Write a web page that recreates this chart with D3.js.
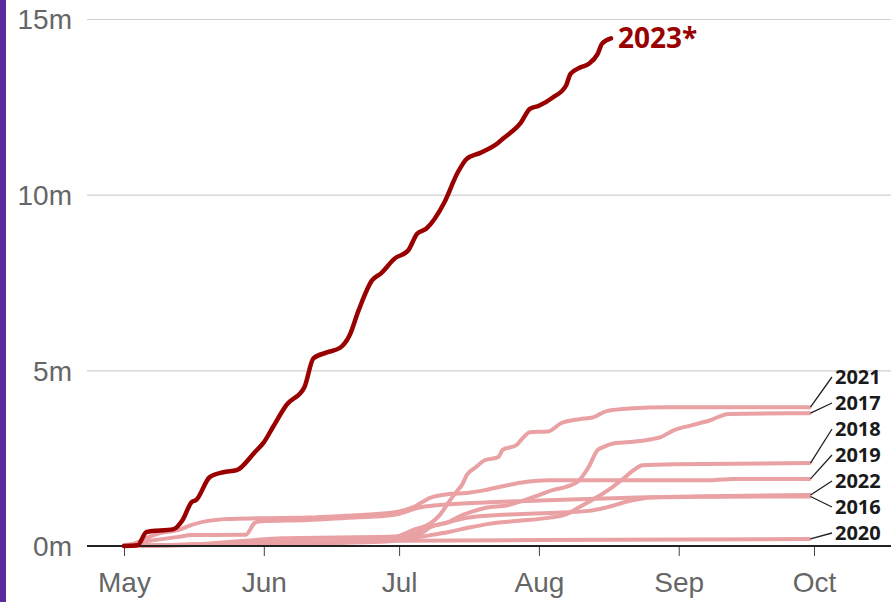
<!DOCTYPE html>
<html>
<head>
<meta charset="utf-8">
<script src="https://cdn.jsdelivr.net/npm/d3@7"></script>
<style>
  body { margin: 0; background: #fff; }
  svg { display: block; font-family: "Open Sans", "Noto Sans", sans-serif; }
</style>
</head>
<body>
<svg width="891" height="602"></svg>
<script>
// cumulative area burned, millions of hectares, by date (MM-DD)
const s2023 = [["05-01",0],["05-04",0.02],["05-06",0.40],["05-12",0.48],["05-14",0.74],["05-16",1.25],
  ["05-17",1.31],["05-20",1.96],["05-23",2.10],["05-26",2.16],["05-30",2.67],["06-01",2.95],["06-03",3.38],
  ["06-06",4.01],["06-10",4.52],["06-12",5.34],["06-15",5.51],["06-18",5.65],["06-20",5.99],["06-22",6.70],
  ["06-25",7.56],["06-27",7.76],["06-30",8.18],["07-03",8.41],["07-05",8.89],["07-07",9.03],["07-11",9.77],
  ["07-14",10.63],["07-16",11.02],["07-19",11.19],["07-23",11.48],["07-24",11.59],["07-28",12.05],
  ["07-30",12.44],["08-01",12.53],["08-04",12.76],["08-07",13.10],["08-08",13.44],["08-10",13.61],
  ["08-12",13.72],["08-14",14.00],["08-15",14.30],["08-17",14.45]];
const s2021 = [["05-01",0],["06-01",0.06],["06-27",0.15],["06-30",0.24],["07-04",0.45],["07-08",0.65],
  ["07-10",0.88],["07-12",1.25],["07-14",1.59],["07-15",1.75],["07-16",2.02],["07-18",2.24],["07-20",2.44],
  ["07-23",2.53],["07-24",2.74],["07-27",2.87],["07-28",3.01],["07-30",3.24],["08-03",3.26],["08-06",3.50],
  ["08-10",3.61],["08-13",3.66],["08-16",3.84],["08-22",3.92],["08-29",3.95],["09-30",3.95]];
const s2017 = [["05-01",0],["06-01",0.05],["06-27",0.12],["07-04",0.26],["07-06",0.37],["07-08",0.54],
  ["07-12",0.68],["07-14",0.82],["07-17",0.97],["07-20",1.08],["07-25",1.16],["07-29",1.31],["08-01",1.45],
  ["08-04",1.59],["08-07",1.68],["08-10",1.88],["08-12",2.24],["08-14",2.73],["08-15",2.80],["08-18",2.93],
  ["08-22",2.97],["08-26",3.04],["08-28",3.10],["08-31",3.30],["09-04",3.44],["09-08",3.58],["09-12",3.76],
  ["09-30",3.78]];
const s2018 = [["05-01",0],["05-20",0.05],["06-01",0.10],["06-30",0.17],["07-04",0.23],["07-08",0.31],
  ["07-12",0.40],["07-16",0.51],["07-21",0.63],["07-27",0.71],["08-03",0.80],["08-07",0.90],["08-10",1.11],
  ["08-14",1.40],["08-17",1.65],["08-20",1.95],["08-22",2.16],["08-24",2.30],["08-31",2.33],["09-30",2.36]];
const s2019 = [["05-01",0],["05-03",0.05],["05-05",0.17],["05-09",0.37],["05-13",0.45],["05-16",0.60],
  ["05-19",0.70],["05-24",0.77],["05-31",0.79],["06-11",0.81],["06-19",0.86],["06-28",0.93],["07-01",0.98],
  ["07-04",1.10],["07-08",1.38],["07-12",1.48],["07-16",1.51],["07-20",1.59],["07-25",1.73],["07-29",1.82],
  ["08-03",1.87],["09-08",1.87],["09-13",1.91],["09-30",1.91]];
const s2022 = [["05-01",0.02],["05-05",0.11],["05-13",0.26],["05-16",0.31],["05-28",0.32],["05-30",0.66],
  ["05-31",0.70],["06-11",0.74],["06-19",0.80],["06-28",0.86],["07-01",0.92],["07-05",1.08],["07-10",1.17],
  ["07-20",1.24],["08-03",1.30],["08-23",1.38],["09-30",1.45]];
const s2016 = [["05-01",0],["05-16",0.04],["05-28",0.15],["06-05",0.22],["06-30",0.27],["07-05",0.38],
  ["07-08",0.55],["07-12",0.68],["07-16",0.80],["07-23",0.88],["08-03",0.94],["08-12",1.00],["08-16",1.10],
  ["08-21",1.28],["08-26",1.38],["09-08",1.40],["09-30",1.41]];
const s2020 = [["05-01",0],["05-16",0.04],["06-01",0.10],["07-01",0.15],["08-01",0.17],["09-30",0.20]];

const pastYears = ["2016", "2017", "2018", "2019", "2020", "2021", "2022"];
const pastSeries = [s2016, s2017, s2018, s2019, s2020, s2021, s2022];
const labelOrder = ["2021", "2017", "2018", "2019", "2022", "2016", "2020"];
const yTicks = [0, 5, 10, 15];
const monthTicks = ["05-01", "06-01", "07-01", "08-01", "09-01", "10-01"];

const svg = d3.select('svg'),
    width = +svg.attr('width'),
    height = +svg.attr('height');

const parse = d3.timeParse('%Y-%m-%d');
const toDate = s => parse('2023-' + s);

const x = d3.scaleTime()
    .domain([toDate('05-01'), toDate('10-01')])
    .range([124, 814]);
const y = d3.scaleLinear()
    .domain([0, 15])
    .range([546, 19]);

const plotLeft = 87;

// left purple strip
svg.append('rect')
    .attr('x', 0).attr('y', 0)
    .attr('width', 6).attr('height', height)
    .attr('fill', '#5c2a9d');

// y axis + gridlines
const yAxis = svg.append('g')
    .attr('transform', `translate(${plotLeft},0)`)
    .call(d3.axisLeft(y)
        .tickValues(yTicks)
        .tickSize(-(width - plotLeft))
        .tickPadding(15)
        .tickFormat(d => d + 'm'));
yAxis.select('.domain').remove();
yAxis.selectAll('line').attr('stroke', '#cfcfcf').attr('stroke-width', 1.2);
yAxis.selectAll('text')
    .attr('fill', '#666')
    .style('font-size', '28px')
    .attr('dy', '0.35em');

// x axis
const xAxis = svg.append('g')
    .attr('transform', `translate(0,${y(0)})`)
    .call(d3.axisBottom(x)
        .tickValues(monthTicks.map(toDate))
        .tickSize(10)
        .tickSizeOuter(0)
        .tickPadding(16)
        .tickFormat(d3.timeFormat('%b')));
xAxis.select('.domain').remove();
xAxis.selectAll('line').attr('stroke', '#444').attr('stroke-width', 1);
xAxis.selectAll('text')
    .attr('fill', '#666')
    .style('font-size', '28px');

const line = d3.line()
    .x(d => x(toDate(d[0])))
    .y(d => y(d[1]))
    .curve(d3.curveMonotoneX);

// earlier years
svg.append('g')
    .selectAll('path')
    .data(pastSeries)
    .enter()
    .append('path')
    .attr('d', line)
    .attr('fill', 'none')
    .attr('stroke', '#e9a1a4')
    .attr('stroke-width', 4)
    .attr('stroke-linejoin', 'round')
    .attr('stroke-linecap', 'round');

// baseline
svg.append('line')
    .attr('x1', plotLeft).attr('x2', width)
    .attr('y1', y(0)).attr('y2', y(0))
    .attr('stroke', '#222')
    .attr('stroke-width', 2);

// 2023
svg.append('path')
    .datum(s2023)
    .attr('d', line)
    .attr('fill', 'none')
    .attr('stroke', '#990000')
    .attr('stroke-width', 4.5)
    .attr('stroke-linejoin', 'round')
    .attr('stroke-linecap', 'round');

const last23 = s2023[s2023.length - 1];
svg.append('text')
    .attr('x', x(toDate(last23[0])) + 7)
    .attr('y', y(last23[1]) + 10)
    .attr('fill', '#990000')
    .style('font-size', '28px')
    .style('font-weight', 'bold')
    .text('2023*');

// right-hand labels with leader lines
const labelX = 835;
const labelTop = 377;
const labelStep = 26;
const labels = svg.append('g');
labelOrder.forEach((yr, i) => {
    const vals = pastSeries[pastYears.indexOf(yr)];
    const end = vals[vals.length - 1];
    const ly = labelTop + i * labelStep;
    labels.append('line')
        .attr('x1', x(toDate(end[0])) + 1)
        .attr('y1', y(end[1]))
        .attr('x2', labelX - 3)
        .attr('y2', ly)
        .attr('stroke', '#222')
        .attr('stroke-width', 1.3);
    labels.append('text')
        .attr('x', labelX)
        .attr('y', ly)
        .attr('dy', '0.36em')
        .attr('fill', '#1a1a1a')
        .style('font-size', '20px')
        .style('font-weight', 'bold')
        .text(yr);
});
</script>
</body>
</html>
